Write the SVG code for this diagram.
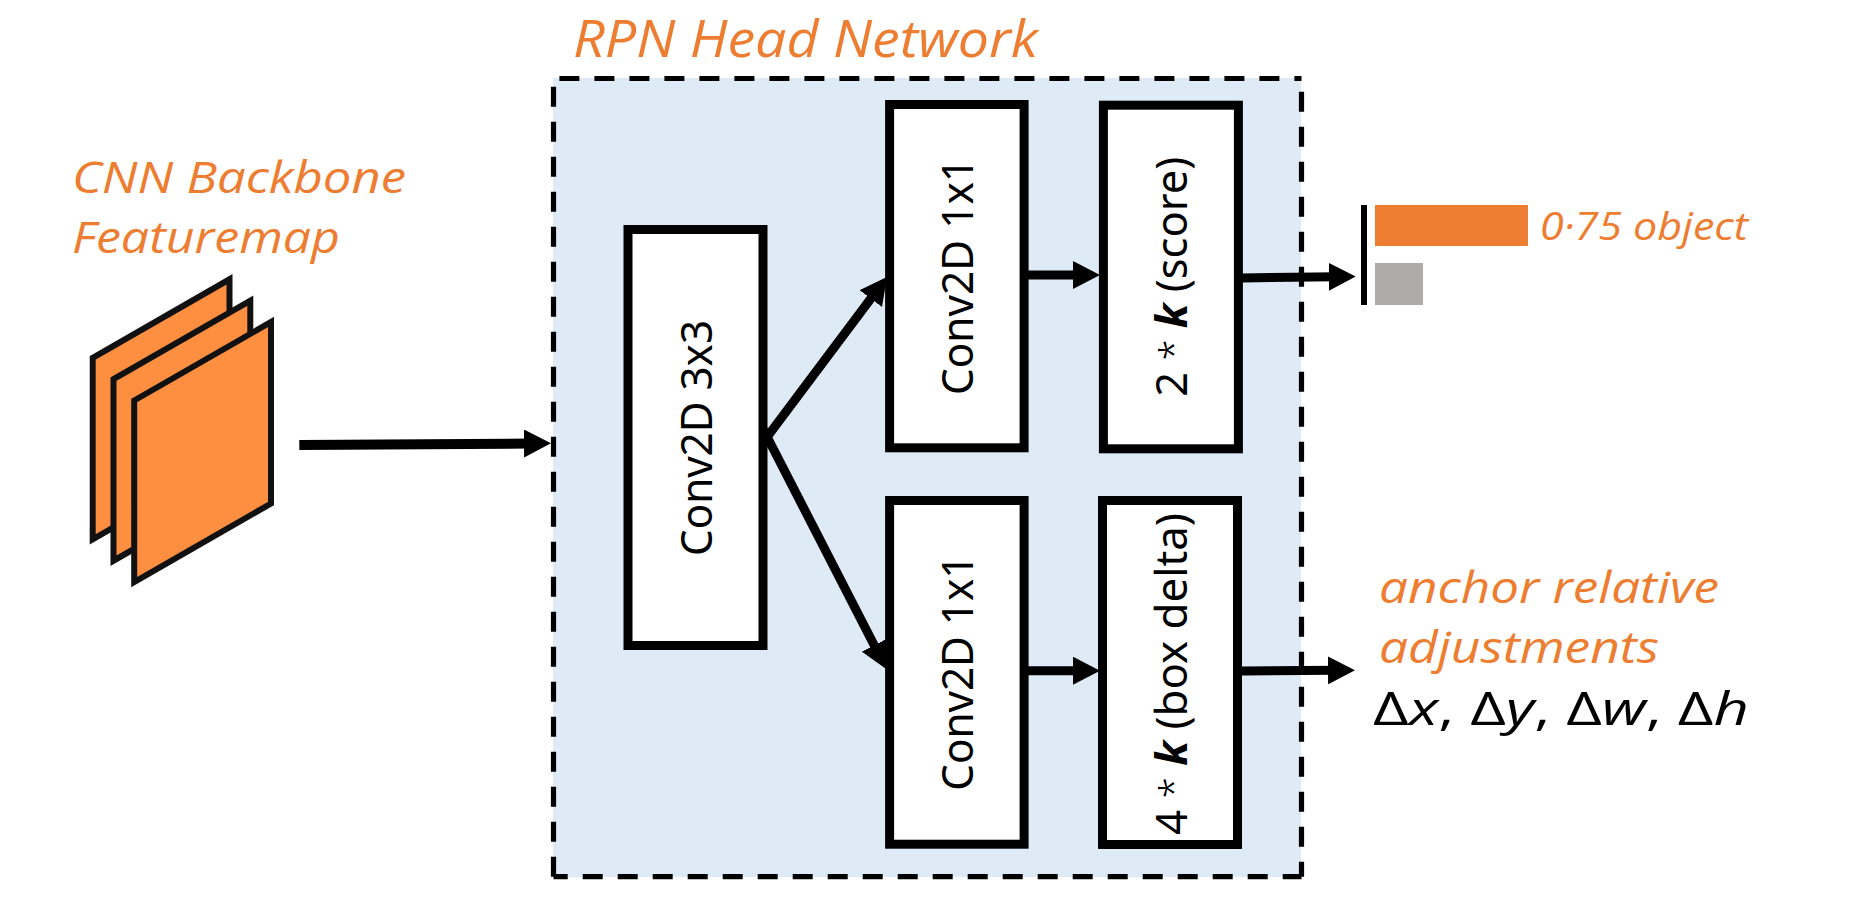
<svg xmlns="http://www.w3.org/2000/svg" width="1867" height="899" viewBox="0 0 1867 899">
<style>
.hand{font-family:"Open Sans","Liberation Sans",sans-serif;font-style:italic;fill:#ED7D31}
.lbl{font-family:"Noto Sans","Liberation Sans",sans-serif;font-size:43px;fill:#000}
.b{fill:#fff;stroke:#000;stroke-width:9}
.k{font-weight:700;font-style:italic}
.a{font-weight:300;font-size:38px}
.dash{stroke:#000;stroke-width:5.2;stroke-dasharray:20 15;fill:none}
.map{fill:#FF8F40;stroke:#111;stroke-width:6;stroke-miterlimit:10}
.c{stroke:#000;stroke-width:9;fill:none;marker-end:url(#h)}
.i{font-style:italic}
</style>
<defs>
<marker id="h" markerUnits="userSpaceOnUse" markerWidth="27" markerHeight="28" refX="7" refY="14" orient="auto"><path d="M0,0L27,14L0,28z" fill="#000"/></marker>
</defs>
<rect width="1867" height="899" fill="#fff"/>
<g id="rpn-head">
<rect x="553" y="78" width="748" height="799" fill="#DEEAF6"/>
<line class="dash" x1="553.5" y1="78.5" x2="1301.5" y2="78.5" stroke-dashoffset="29.1"/>
<line class="dash" x1="1301.5" y1="78.5" x2="1301.5" y2="876.7" stroke-dashoffset="21.8"/>
<line class="dash" x1="553.5" y1="876.7" x2="1301.5" y2="876.7" stroke-dashoffset="5.8"/>
<line class="dash" x1="553.5" y1="876.7" x2="553.5" y2="78.5" stroke-dashoffset="0"/>
<text class="hand" x="573" y="57" font-size="52" textLength="465" lengthAdjust="spacingAndGlyphs">RPN Head Network</text>
</g>
<g id="feature-map">
<polygon class="map" points="92.7,357.8 229.5,279.3 229.5,460.8 92.7,539.3"/>
<polygon class="map" points="113.5,379.2 250.3,300.7 250.3,482.2 113.5,560.7"/>
<polygon class="map" points="134.2,400.5 271,322 271,503.5 134.2,582"/>
<text class="hand" x="72" y="193" font-size="44" textLength="334" lengthAdjust="spacingAndGlyphs">CNN Backbone</text>
<text class="hand" x="72" y="253" font-size="44" textLength="268" lengthAdjust="spacingAndGlyphs">Featuremap</text>
</g>
<g id="connectors">
<line class="c" style="stroke-width:10" x1="299.3" y1="445" x2="531" y2="443.5"/>
<line class="c" x1="761" y1="445" x2="875" y2="293"/>
<line class="c" x1="761" y1="425" x2="877.4" y2="651.5"/>
<line class="c" x1="1028" y1="275" x2="1080" y2="275"/>
<line class="c" x1="1028" y1="670.7" x2="1080" y2="670.7"/>
<line class="c" x1="1242" y1="278" x2="1335.7" y2="276.7"/>
<line class="c" x1="1242" y1="671" x2="1335" y2="670.3"/>
</g>
<g id="conv3x3">
<rect class="b" x="628" y="229.5" width="135" height="416"/>
<text class="lbl" transform="translate(712,556) rotate(-90)" textLength="236" lengthAdjust="spacingAndGlyphs">Conv2D 3x3</text>
</g>
<g id="conv1x1-top">
<rect class="b" x="889.6" y="104.5" width="134.5" height="343.3"/>
<text class="lbl" transform="translate(973,395) rotate(-90)" textLength="237" lengthAdjust="spacingAndGlyphs">Conv2D 1x1</text>
</g>
<g id="score">
<rect class="b" x="1103.4" y="105.2" width="135" height="343.6"/>
<text class="lbl" transform="translate(1187,396.7) rotate(-90)" textLength="240" lengthAdjust="spacingAndGlyphs">2 <tspan class="a">*</tspan> <tspan class="k">k</tspan> (score)</text>
</g>
<g id="conv1x1-bottom">
<rect class="b" x="889.6" y="500.5" width="134.5" height="343.7"/>
<text class="lbl" transform="translate(973,790.7) rotate(-90)" textLength="236" lengthAdjust="spacingAndGlyphs">Conv2D 1x1</text>
</g>
<g id="box-delta">
<rect class="b" x="1102.5" y="500.5" width="135" height="344"/>
<text class="lbl" transform="translate(1187,835) rotate(-90)" textLength="322" lengthAdjust="spacingAndGlyphs">4 <tspan class="a">*</tspan> <tspan class="k">k</tspan> (box delta)</text>
</g>
<g id="objectness">
<rect x="1361" y="205" width="6" height="100" fill="#000"/>
<rect x="1375" y="205" width="153" height="41" fill="#ED7D31"/>
<rect x="1375" y="263" width="48" height="42" fill="#AFABAB"/>
<text class="hand" x="1540" y="240" font-size="38" textLength="208" lengthAdjust="spacingAndGlyphs">0·75 object</text>
</g>
<g id="adjustments">
<text class="hand" x="1379" y="603" font-size="44" textLength="340" lengthAdjust="spacingAndGlyphs">anchor relative</text>
<text class="hand" x="1379" y="663" font-size="44" textLength="280" lengthAdjust="spacingAndGlyphs">adjustments</text>
<text x="1373" y="725" font-family="'Open Sans','Liberation Sans',sans-serif" font-size="46" fill="#000" textLength="376" lengthAdjust="spacingAndGlyphs">Δ<tspan class="i">x</tspan>, Δ<tspan class="i">y</tspan>, Δ<tspan class="i">w</tspan>, Δ<tspan class="i">h</tspan></text>
</g>
</svg>
